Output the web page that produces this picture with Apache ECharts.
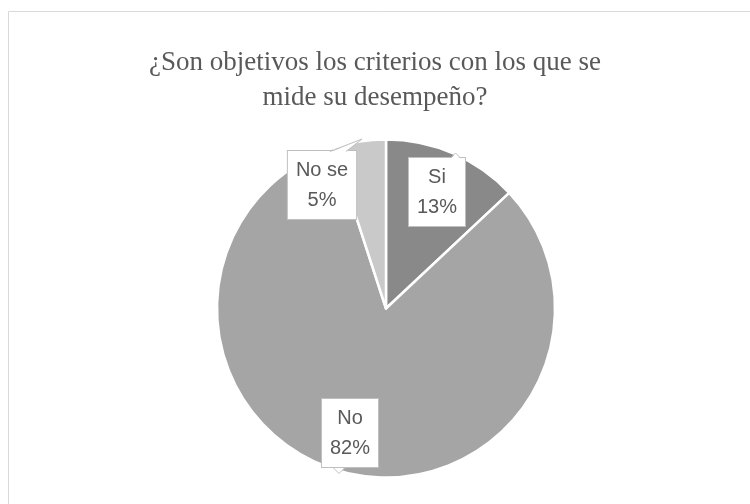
<!DOCTYPE html>
<html>
<head>
<meta charset="utf-8">
<script src="https://cdn.jsdelivr.net/npm/echarts@6/dist/echarts.min.js"></script>
<style>
  html, body { margin: 0; padding: 0; background: #fff; }
  #chart { width: 750px; height: 504px; }
</style>
</head>
<body>
<div id="chart"></div>
<script>
var titleText = '¿Son objetivos los criterios con los que se\nmide su desempeño?';
var categories = ['Si', 'No', 'No se'];
var values = [13, 82, 5]; // porcentajes
var sliceColors = ['#898989', '#a5a5a5', '#c9c9c9'];

// donde van las etiquetas (centro de la caja), por indice
var labelSpots = [[437, 192], [350, 433], [322, 185]];
// piquitos de las etiquetas (base izq, punta, base der)
var pointers = [
  [[451, 157.5], [455.5, 153], [460, 157.5]],
  [[333, 467.5], [339, 473.5], [345, 467.5]],
  [[330, 151.5], [362, 139], [346, 151.5]]
];

var chart = echarts.init(document.getElementById('chart'));

var deco = [{
  type: 'rect',
  shape: { x: 8.5, y: 11.5, width: 760, height: 520 },
  style: { fill: 'none', stroke: '#d9d9d9', lineWidth: 1 },
  silent: true
}];
pointers.forEach(function (pt) {
  deco.push({
    type: 'polygon', z: 100, silent: true,
    shape: { points: [[pt[0][0] + 0.5, pt[0][1] + 0.5], pt[1], [pt[2][0] - 0.5, pt[2][1] + 0.5]] },
    style: { fill: '#fff' }
  });
  deco.push({
    type: 'polyline', z: 101, silent: true,
    shape: { points: pt },
    style: { fill: null, stroke: '#bfbfbf', lineWidth: 1 }
  });
});

chart.setOption({
  animation: false,
  title: {
    text: titleText,
    left: 'center',
    top: 40,
    textStyle: {
      fontFamily: 'Liberation Serif',
      fontSize: 27,
      fontWeight: 'normal',
      color: '#595959',
      lineHeight: 35
    }
  },
  graphic: deco,
  series: [{
    type: 'pie',
    center: [386, 308.5],
    radius: 169,
    startAngle: 90,
    clockwise: true,
    itemStyle: { borderColor: '#fff', borderWidth: 2.5 },
    label: {
      show: true,
      position: 'inside',
      formatter: function (p) { return p.name + '\n' + p.value + '%'; },
      fontFamily: 'Liberation Sans',
      fontSize: 20,
      lineHeight: 30,
      color: '#595959',
      backgroundColor: '#fff',
      borderColor: '#bfbfbf',
      borderWidth: 1,
      padding: [4, 8, 4, 8],
      align: 'center'
    },
    labelLine: { show: false },
    labelLayout: function (p) {
      var s = labelSpots[p.dataIndex];
      return { x: s[0], y: s[1], align: 'center', verticalAlign: 'middle' };
    },
    emphasis: { disabled: true },
    data: categories.map(function (c, i) {
      return { name: c, value: values[i], itemStyle: { color: sliceColors[i] } };
    })
  }]
});
</script>
</body>
</html>
